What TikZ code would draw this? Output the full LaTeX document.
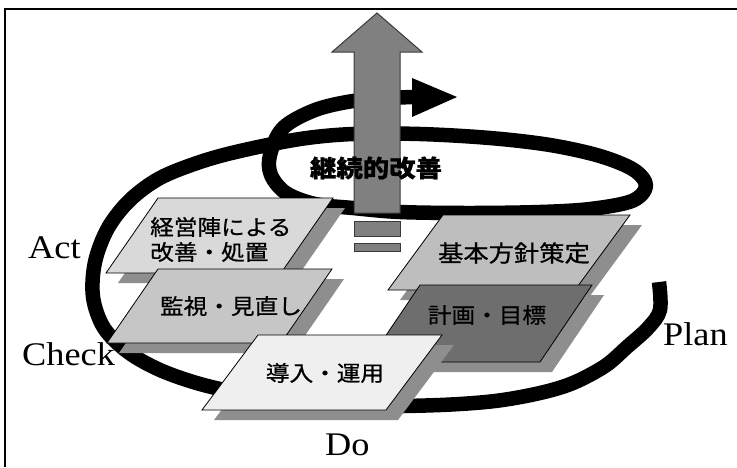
\documentclass[tikz,border=0pt]{standalone}
\usepackage{fontspec}
\setmainfont{Liberation Serif}
\newfontfamily\jp[FakeBold=0.7]{Noto Sans CJK JP}
\definecolor{arrowc}{HTML}{808080}
\definecolor{arrowline}{HTML}{3A3A3A}
\definecolor{boxA}{HTML}{D9D9D9}
\definecolor{boxB}{HTML}{C6C6C6}
\definecolor{boxC}{HTML}{EFEFEF}
\definecolor{boxD}{HTML}{BEBEBE}
\definecolor{boxE}{HTML}{6E6E6E}
\definecolor{shadec}{HTML}{8E8E8E}
% parallelogram with drop shadow: x y width height slant colour
\newcommand\plgm[6]{%
  \fill[shadec] ({#1+12},{#2+10}) -- ({#1+#3+12},{#2+10}) -- ({#1+#3-#5+12},{#2+#4+10}) -- ({#1-#5+12},{#2+#4+10}) -- cycle;
  \filldraw[fill=#6, draw=black, line width=0.8] (#1,#2) -- ({#1+#3},#2) -- ({#1+#3-#5},{#2+#4}) -- ({#1-#5},{#2+#4}) -- cycle;
}
\newcommand\sx[1]{\scalebox{1.1}[1]{#1}}
\begin{document}
\begin{tikzpicture}[x=1pt,y=-1pt,
  lbl/.style={font=\fontsize{33}{33}\selectfont, inner sep=0, anchor=base west},
  jpt/.style={font=\jp\fontsize{21.5}{21.5}\selectfont, inner sep=0},
  band/.style={line width=14.5, line join=round}]
\useasboundingbox (0,0) rectangle (737,467);
% frame
\draw[line width=2.5] (4,9) -- (737,9);
\draw[line width=2.5] (5,8) -- (5,467);
% spiral band
\draw[band] plot[smooth, tension=0.55] coordinates {
 (659,282) (660,310) (648,328) (627,347) (605,366) (573,383) (540,393)
 (495,401) (440,405) (370,406) (300,402) (245,394) (200,384) (160,370)
 (128,352) (104,328) (93,297) (95,262) (108,228) (130,200) (160,178)
 (200,162) (240,151) (300,139) (353,134) (420,134) (490,138) (550,145)
 (600,156) (634,170) (646,186) (632,201) (590,209) (540,212) (470,213)
 (400,212) (353,208) (315,204) (286,193) (271,175) (270,155) (283,128)
 (315,110) (353,101) (390,98) (413,97)};
\fill (412,78) -- (457,97) -- (412,117) -- cycle;
% big grey arrow
\filldraw[fill=arrowc, draw=arrowline, line width=1]
  (377,13) -- (422,52) -- (400,52) -- (400,213) -- (354,213) -- (354,52) -- (332,52) -- cycle;
\filldraw[fill=arrowc, draw=arrowline, line width=1] (354,221) rectangle (400,236);
\filldraw[fill=arrowc, draw=arrowline, line width=1] (354,243) rectangle (400,251);
\node[jpt, font=\jp\bfseries\fontsize{24}{24}\selectfont] (kaizen) at (376,168) {\sx{継続的改善}};
% boxes
\plgm{158}{198}{175}{75}{52}{boxA}
\plgm{158}{269}{174}{74}{51}{boxB}
\plgm{443}{215}{187}{75}{55}{boxD}
\plgm{420}{285}{172}{77}{52}{boxE}
\plgm{258}{335}{184}{75}{56}{boxC}
% box texts
\node[jpt, anchor=west] (t1a) at (150,227) {\sx{経営陣による}};
\node[jpt, anchor=west] (t1b) at (150,252) {\sx{改善・処置}};
\node[jpt] (t2) at (231,306) {\sx{監視・見直し}};
\node[jpt, font=\jp\fontsize{23}{23}\selectfont] (t4) at (514,253) {\sx{基本方針策定}};
\node[jpt] (t5) at (487,315) {\sx{計画・目標}};
\node[jpt] (t3) at (325,373) {\sx{導入・運用}};
% phase labels
\node[lbl] (act) at (28,258) {\sx{Act}};
\node[lbl] (check) at (22,365) {\sx{Check}};
\node[lbl] (plan) at (663,345) {\sx{Plan}};
\node[lbl] (do) at (325,455) {\sx{Do}};
\end{tikzpicture}
\end{document}
